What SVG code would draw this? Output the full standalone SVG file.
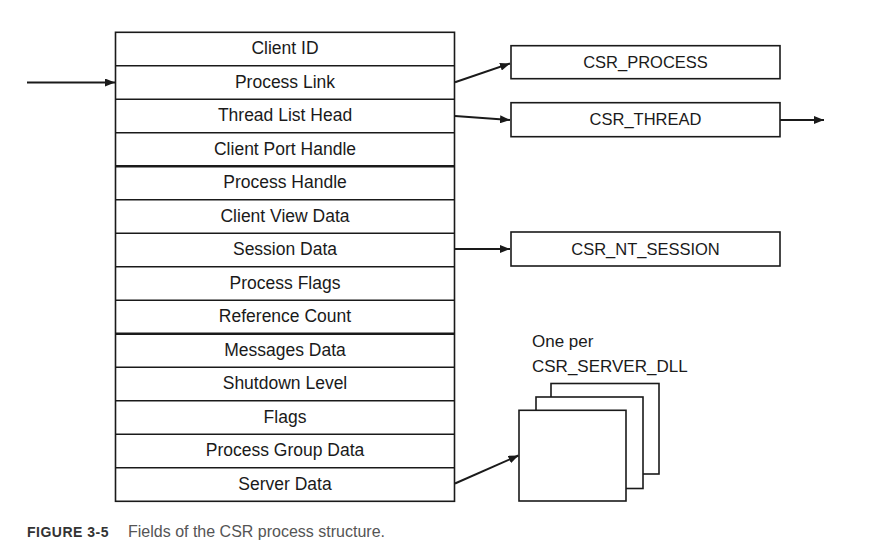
<svg xmlns="http://www.w3.org/2000/svg" width="878" height="559" viewBox="0 0 878 559">
<style>
.box{fill:#fff;stroke:#1a1a1a;stroke-width:1.6}
.thick{stroke:#1a1a1a;stroke-width:2.5}
.t{font-family:"Liberation Sans",Arial,sans-serif;font-size:17.5px;fill:#1a1a1a;text-anchor:middle}
.r{font-family:"Liberation Sans",Arial,sans-serif;font-size:16.5px;fill:#1a1a1a;text-anchor:middle}
.lbl{font-family:"Liberation Sans",Arial,sans-serif;font-size:17px;fill:#1a1a1a}
.conn{fill:none;stroke:#1a1a1a;stroke-width:2;marker-end:url(#ah)}
.cap{font-family:"Liberation Sans",Arial,sans-serif;font-size:16px;fill:#555}
</style>
<defs>
<marker id="ah" viewBox="0 0 10 8" refX="10" refY="4" markerWidth="10" markerHeight="8" markerUnits="userSpaceOnUse" orient="auto">
<path d="M0,0 L10,4 L0,8 Z" fill="#1a1a1a"/>
</marker>
</defs>
<rect width="878" height="559" fill="#fff"/>
<g id="csr-process-struct">
<rect class="box" x="115.5" y="32.3" width="339" height="469"/>
<g stroke="#1a1a1a" stroke-width="1.5">
<line x1="115.5" y1="65.8" x2="454.5" y2="65.8"/>
<line x1="115.5" y1="99.3" x2="454.5" y2="99.3"/>
<line x1="115.5" y1="132.8" x2="454.5" y2="132.8"/>
<line x1="115.5" y1="199.8" x2="454.5" y2="199.8"/>
<line x1="115.5" y1="233.3" x2="454.5" y2="233.3"/>
<line x1="115.5" y1="266.8" x2="454.5" y2="266.8"/>
<line x1="115.5" y1="300.3" x2="454.5" y2="300.3"/>
<line x1="115.5" y1="367.3" x2="454.5" y2="367.3"/>
<line x1="115.5" y1="400.8" x2="454.5" y2="400.8"/>
<line x1="115.5" y1="434.3" x2="454.5" y2="434.3"/>
<line x1="115.5" y1="467.8" x2="454.5" y2="467.8"/>
</g>
<line class="thick" x1="115.5" y1="166.3" x2="454.5" y2="166.3"/>
<line class="thick" x1="115.5" y1="333.8" x2="454.5" y2="333.8"/>
<text class="t" x="285" y="54.3">Client ID</text>
<text class="t" x="285" y="87.8">Process Link</text>
<text class="t" x="285" y="121.3">Thread List Head</text>
<text class="t" x="285" y="154.8">Client Port Handle</text>
<text class="t" x="285" y="188.3">Process Handle</text>
<text class="t" x="285" y="221.8">Client View Data</text>
<text class="t" x="285" y="255.3">Session Data</text>
<text class="t" x="285" y="288.8">Process Flags</text>
<text class="t" x="285" y="322.3">Reference Count</text>
<text class="t" x="285" y="355.8">Messages Data</text>
<text class="t" x="285" y="389.3">Shutdown Level</text>
<text class="t" x="285" y="422.8">Flags</text>
<text class="t" x="285" y="456.3">Process Group Data</text>
<text class="t" x="285" y="489.8">Server Data</text>
</g>
<g id="csr-process">
<rect class="box" x="511" y="45.7" width="269" height="33"/>
<text class="r" x="645.5" y="67.5">CSR_PROCESS</text>
</g>
<g id="csr-thread">
<rect class="box" x="511" y="102.7" width="269" height="34"/>
<text class="r" x="645.5" y="125">CSR_THREAD</text>
</g>
<g id="csr-nt-session">
<rect class="box" x="511" y="232" width="269" height="34"/>
<text class="r" x="645.5" y="254.5">CSR_NT_SESSION</text>
</g>
<g id="server-dlls">
<rect class="box" x="551" y="383.5" width="108" height="90.5"/>
<rect class="box" x="536" y="397" width="107" height="91.5"/>
<rect class="box" x="519" y="410.3" width="107" height="90.7"/>
<text class="lbl" x="532" y="346.5">One per</text>
<text class="lbl" x="532" y="371.5">CSR_SERVER_DLL</text>
</g>
<g id="connectors">
<line class="conn" x1="27" y1="82.5" x2="115" y2="82.5"/>
<line class="conn" x1="455" y1="82.3" x2="510" y2="63.5"/>
<line class="conn" x1="455" y1="116" x2="510" y2="120"/>
<line class="conn" x1="780" y1="120" x2="824" y2="120"/>
<line class="conn" x1="455" y1="249" x2="510" y2="249"/>
<line class="conn" x1="455" y1="483.5" x2="518.5" y2="455.5"/>
</g>
<g id="caption">
<text class="cap" x="27" y="537"><tspan font-weight="bold" fill="#333" font-size="14px" letter-spacing="0.5">FIGURE 3-5</tspan><tspan x="128">Fields of the CSR process structure.</tspan></text>
</g>
</svg>
